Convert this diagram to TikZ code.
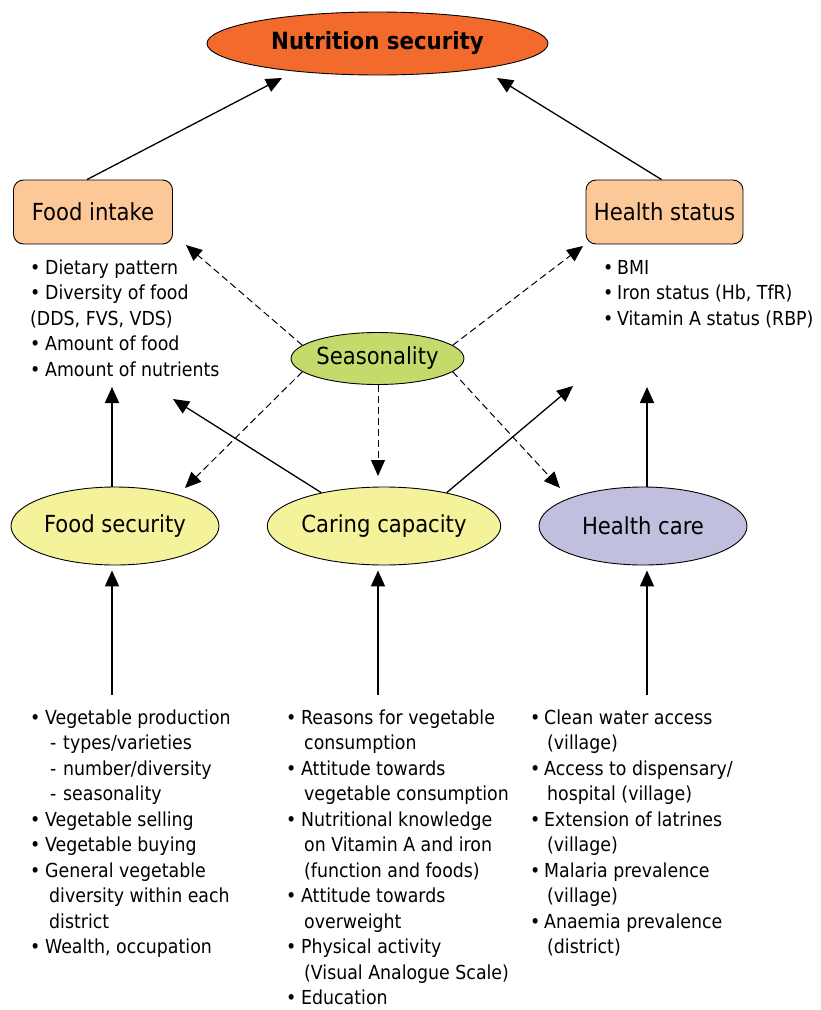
\documentclass[tikz,border=0pt]{standalone}
\usepackage{fontspec}
\setmainfont{DejaVu Sans Condensed}
\usetikzlibrary{arrows.meta,shapes.geometric}
\definecolor{nsorange}{RGB}{242,107,44}
\definecolor{peach}{RGB}{252,200,152}
\definecolor{seagreen}{RGB}{196,219,108}
\definecolor{lyellow}{RGB}{244,242,154}
\definecolor{lav}{RGB}{193,191,222}
\newcommand\bul[1][15pt]{\makebox[#1][l]{•}}
\begin{document}
\begin{tikzpicture}[x=1pt,y=-1pt,
  every node/.style={inner sep=0pt},
  oval/.style={ellipse,draw,line width=0.9pt},
  box/.style={rectangle,rounded corners=10pt,draw,line width=0.9pt,fill=peach,minimum width=159pt,minimum height=64pt,font=\fontsize{23.5}{28}\selectfont},
  lbl/.style={font=\fontsize{23.5}{28}\selectfont},
  list/.style={anchor=north west,align=left,font=\fontsize{19.3}{25.5}\selectfont},
  tip/.style={-{Triangle[length=16pt,width=14pt]}},
  sarr/.style={tip,line width=1.3pt},
  varr/.style={tip,line width=1.8pt},
  darr/.style={tip,line width=1pt,dash pattern=on 7pt off 4pt},
]
\useasboundingbox (0,0) rectangle (820,1010);
\fill[white] (0,0) rectangle (820,1010);

% main nodes
\node[oval,fill=nsorange,minimum width=341pt,minimum height=63pt,font=\fontsize{23.7}{28}\selectfont\bfseries] (ns) at (377.5,43.5) {Nutrition security};
\node[box] (fi) at (93,212) {Food intake};
\node[box,minimum width=157pt] (hs) at (664.5,212) {Health status};
\node[oval,fill=seagreen,minimum width=171pt,minimum height=52pt,lbl] (se) at (377.5,358.5) {Seasonality};
\node[oval,fill=lyellow,minimum width=208pt,minimum height=78pt,lbl] (fs) at (115,526) {Food security};
\node[oval,fill=lyellow,minimum width=208pt,minimum height=78pt,lbl] (cc) at (384,526) {Caring capacity};
\node[oval,fill=lav,minimum width=208pt,minimum height=78pt,lbl] (hc) at (643,526) {Health care};

% lists
\node[list] (fil) at (30,256.15) {\strut\bul Dietary pattern\\ \bul Diversity of food\\ (DDS, FVS, VDS)\\ \bul Amount of food\\ \bul Amount of nutrients};
\node[list] (hsl) at (603,256.15) {\strut\bul[14pt]BMI\\ \bul[14pt]Iron status (Hb, TfR)\\ \bul[14pt]Vitamin A status (RBP)};
\node[list] (fsl) at (30,706.15) {\strut\bul Vegetable production\\
 \hspace*{20pt}\makebox[13pt][l]{-}types/varieties\\
 \hspace*{20pt}\makebox[13pt][l]{-}number/diversity\\
 \hspace*{20pt}\makebox[13pt][l]{-}seasonality\\
 \bul Vegetable selling\\
 \bul Vegetable buying\\
 \bul General vegetable\\
 \hspace*{19pt}diversity within each\\
 \hspace*{19pt}district\\
 \bul Wealth, occupation};
\node[list] (ccl) at (286,706.15) {\strut\bul Reasons for vegetable\\
 \hspace*{18pt}consumption\\
 \bul Attitude towards\\
 \hspace*{18pt}vegetable consumption\\
 \bul Nutritional knowledge\\
 \hspace*{18pt}on Vitamin A and iron\\
 \hspace*{18pt}(function and foods)\\
 \bul Attitude towards\\
 \hspace*{18pt}overweight\\
 \bul Physical activity\\
 \hspace*{18pt}(Visual Analogue Scale)\\
 \bul Education};
\node[list] (hcl) at (530,706.15) {\strut\bul[14pt]Clean water access\\
 \hspace*{17pt}(village)\\
 \bul[14pt]Access to dispensary/\\
 \hspace*{17pt}hospital (village)\\
 \bul[14pt]Extension of latrines\\
 \hspace*{17pt}(village)\\
 \bul[14pt]Malaria prevalence\\
 \hspace*{17pt}(village)\\
 \bul[14pt]Anaemia prevalence\\
 \hspace*{17pt}(district)};

% arrow end points
\coordinate (tns1) at (282,78);
\coordinate (tns2) at (497,78);
\coordinate (tfi) at (186,245);
\coordinate (ths) at (583,246);
\coordinate (tfs) at (185,488);
\coordinate (tcc) at (378,476);
\coordinate (thc) at (560,488);
\coordinate (tl) at (173,399);
\coordinate (tr) at (573,386);
\coordinate (up1) at (112,387);
\coordinate (up3) at (647,387);
\coordinate (b1) at (112,695);
\coordinate (b2) at (378,695);
\coordinate (b3) at (647,695);

% connectors
\draw[sarr] ([xshift=-6pt]fi.north) -- (tns1);
\draw[sarr] ([xshift=-3pt]hs.north) -- (tns2);
\draw[darr] (se.170) -- (tfi);
\draw[darr] (se.10) -- (ths);
\draw[darr] (se.190) -- (tfs);
\draw[darr] (se.south -| tcc) -- (tcc);
\draw[darr] (se.350) -- (thc);
\draw[sarr] (cc.152) -- (tl);
\draw[sarr] (cc.28) -- (tr);
\draw[varr] (fs.north -| up1) -- (up1);
\draw[varr] (hc.north -| up3) -- (up3);
\draw[varr,shorten >=5pt] (b1) -- (b1 |- fs.south);
\draw[varr,shorten >=5pt] (b2) -- (b2 |- cc.south);
\draw[varr,shorten >=5pt] (b3) -- (b3 |- hc.south);
\end{tikzpicture}
\end{document}
